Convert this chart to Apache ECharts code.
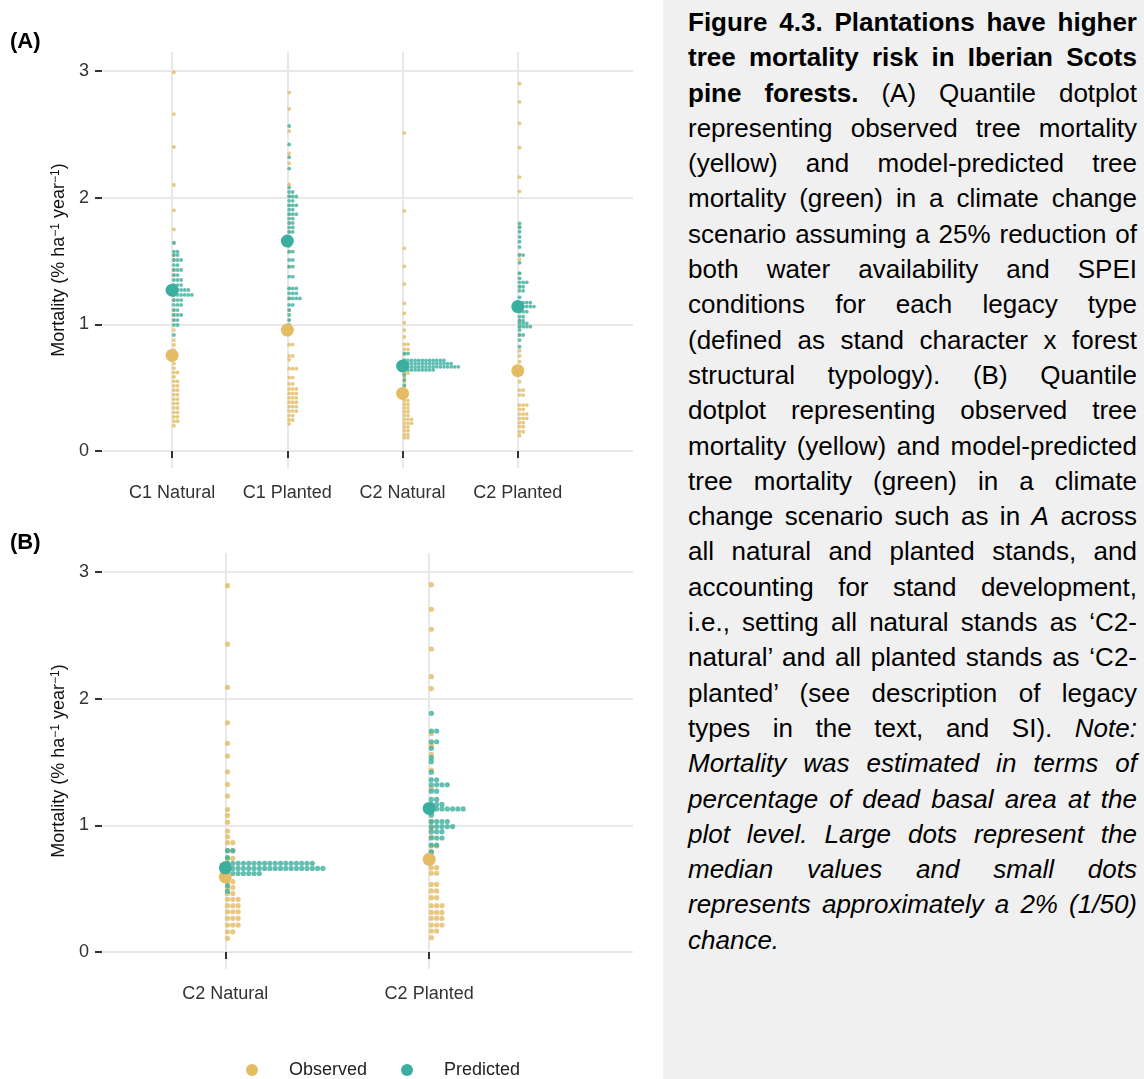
<!DOCTYPE html>
<html>
<head>
<meta charset="utf-8">
<script src="https://cdn.jsdelivr.net/npm/echarts@6/dist/echarts.min.js"></script>
<style>
html,body{margin:0;padding:0;background:#fff;}
#chart{position:absolute;left:0;top:0;width:663px;height:1079px;}
#caption{position:absolute;left:663px;top:0;width:481px;height:1079px;background:#f0f0f0;}
#caption .lines{position:absolute;left:25px;top:5px;width:449px;font-family:"Liberation Sans",Arial,sans-serif;font-size:26px;line-height:35.3px;color:#000;}
.l{text-align:justify;text-align-last:justify;}
.last{text-align-last:left;}
</style>
</head>
<body>
<div id="chart"></div>
<div id="caption"><div class="lines">
<div class="l"><b>Figure 4.3. Plantations have higher</b></div>
<div class="l"><b>tree mortality risk in Iberian Scots</b></div>
<div class="l"><b>pine forests.</b> (A) Quantile dotplot</div>
<div class="l">representing observed tree mortality</div>
<div class="l">(yellow) and model-predicted tree</div>
<div class="l">mortality (green) in a climate change</div>
<div class="l">scenario assuming a 25% reduction of</div>
<div class="l">both water availability and SPEI</div>
<div class="l">conditions for each legacy type</div>
<div class="l">(defined as stand character x forest</div>
<div class="l">structural typology). (B) Quantile</div>
<div class="l">dotplot representing observed tree</div>
<div class="l">mortality (yellow) and model-predicted</div>
<div class="l">tree mortality (green) in a climate</div>
<div class="l">change scenario such as in <i>A</i> across</div>
<div class="l">all natural and planted stands, and</div>
<div class="l">accounting for stand development,</div>
<div class="l">i.e., setting all natural stands as ‘C2-</div>
<div class="l">natural’ and all planted stands as ‘C2-</div>
<div class="l">planted’ (see description of legacy</div>
<div class="l">types in the text, and SI). <i>Note:</i></div>
<div class="l"><i>Mortality was estimated in terms of</i></div>
<div class="l"><i>percentage of dead basal area at the</i></div>
<div class="l"><i>plot level. Large dots represent the</i></div>
<div class="l"><i>median values and small dots</i></div>
<div class="l"><i>represents approximately a 2% (1/50)</i></div>
<div class="l last"><i>chance.</i></div>
</div></div>
<script>
// ---------- DATA ----------
const categoriesA = ['C1 Natural', 'C1 Planted', 'C2 Natural', 'C2 Planted'];
const categoriesB = ['C2 Natural', 'C2 Planted'];
const yTickValues = [0, 1, 2, 3];
const seriesNames = ['Observed', 'Predicted'];

// bins: [mortality value, number of stacked small dots]
const obsA_C1Natural = [[2.99,1],[2.66,1],[2.40,1],[2.10,1],[1.90,1],[1.75,1],[1.64,1],[1.547,1],[1.508,1],[1.429,1],[1.389,1],[1.31,1],[1.232,1],[1.192,1],[1.113,1],[1.074,1],[1.034,1],[0.955,1],[0.876,1],[0.837,1],[0.797,1],
  [0.69,1],[0.655,1],[0.62,2],[0.585,1],[0.55,2],[0.515,2],[0.48,2],[0.445,2],[0.41,2],[0.375,2],[0.34,2],[0.305,2],[0.27,2],[0.235,2],[0.20,1]];
const predA_C1Natural = [[1.645,1],[1.574,2],[1.547,2],[1.508,3],[1.468,2],[1.429,3],[1.389,2],[1.35,3],[1.31,3],[1.271,5],[1.232,6],[1.192,3],[1.153,3],[1.113,2],[1.074,3],[1.034,2],[0.995,2],[0.916,1]];
const obsA_C1Planted = [[2.83,1],[2.70,1],[2.526,1],[2.35,1],[2.27,1],[2.105,1],[2.01,1],[1.94,1],[1.87,1],[1.80,1],[1.73,1],[1.574,1],[1.455,1],[1.284,1],[1.205,1],[1.113,1],[1.034,1],
  [0.84,2],[0.75,2],[0.72,1],[0.65,3],[0.58,2],[0.53,2],[0.49,3],[0.455,3],[0.42,3],[0.385,3],[0.35,3],[0.315,3],[0.28,2],[0.245,2],[0.215,1]];
const predA_C1Planted = [[2.566,1],[2.42,1],[2.32,1],[2.23,1],[2.08,1],[2.045,2],[2.01,3],[1.975,2],[1.94,3],[1.905,2],[1.87,3],[1.835,2],[1.80,2],[1.765,2],[1.73,2],[1.69,1],[1.62,1],[1.574,2],[1.508,2],[1.455,2],[1.376,2],[1.284,3],[1.245,3],[1.205,4],[1.153,2],[1.113,1],[1.074,1],[1.034,1],[0.995,1]];
const obsA_C2Natural = [[2.51,1],[1.895,1],[1.60,1],[1.458,1],[1.318,1],[1.166,1],[1.087,1],[1.013,1],[0.955,1],[0.90,1],[0.842,2],[0.803,2],[0.763,1],[0.72,1],[0.69,1],[0.615,2],[0.58,1],[0.55,1],[0.51,1],
  [0.40,2],[0.37,2],[0.34,2],[0.31,2],[0.28,2],[0.25,3],[0.22,3],[0.19,2],[0.16,2],[0.13,2],[0.105,2]];
const predA_C2Natural = [[0.77,2],[0.715,12],[0.69,14],[0.665,16],[0.64,9],[0.60,1],[0.56,1],[0.52,1]];
const obsA_C2Planted = [[2.90,1],[2.757,1],[2.587,1],[2.395,1],[2.163,1],[2.05,1],[1.77,1],[1.55,1],[1.513,1],[1.403,1],[1.297,1],[1.171,1],[1.10,1],[1.029,1],[0.982,1],[0.916,1],[0.79,1],[0.75,1],[0.705,1],
  [0.547,1],[0.48,2],[0.442,2],[0.363,3],[0.329,2],[0.292,3],[0.258,3],[0.224,2],[0.192,2],[0.152,2],[0.121,1]];
const predA_C2Planted = [[1.797,1],[1.765,1],[1.731,1],[1.69,1],[1.652,1],[1.61,1],[1.547,2],[1.486,1],[1.403,1],[1.363,1],[1.332,3],[1.297,2],[1.265,2],[1.213,1],[1.171,4],[1.14,5],[1.10,3],[1.06,2],[1.029,2],[1.008,3],[0.982,4],[0.955,1],[0.916,2],[0.876,1],[0.823,1]];

const obsB_C2Natural = [[2.892,1],[2.43,1],[2.09,1],[1.81,1],[1.648,1],[1.547,1],[1.423,1],[1.323,1],[1.231,1],[1.125,1],[1.078,1],[1.025,1],[0.955,1],[0.91,1],[0.863,2],[0.80,2],[0.74,2],[0.70,1],[0.66,1],
  [0.555,2],[0.51,2],[0.463,2],[0.416,3],[0.366,3],[0.318,3],[0.266,3],[0.213,3],[0.16,2],[0.108,1]];
const predB_C2Natural = [[0.80,2],[0.745,1],[0.70,17],[0.66,19],[0.62,7],[0.525,1],[0.48,1]];
const obsB_C2Planted = [[2.90,1],[2.705,1],[2.548,1],[2.392,1],[2.174,1],[2.08,1],[1.726,1],[1.634,1],[1.56,1],[1.437,1],[1.29,1],[1.10,1],[1.03,1],[0.976,1],[0.91,1],[0.837,2],[0.79,1],
  [0.666,2],[0.621,2],[0.534,2],[0.482,2],[0.429,2],[0.366,3],[0.313,3],[0.266,3],[0.213,3],[0.166,2],[0.113,1]];
const predB_C2Planted = [[1.884,1],[1.745,2],[1.66,2],[1.608,1],[1.534,1],[1.503,1],[1.42,1],[1.36,2],[1.32,4],[1.27,2],[1.205,2],[1.165,3],[1.13,7],[1.08,1],[1.03,4],[0.99,5],[0.95,3],[0.90,3],[0.845,2],[0.79,1]];

const medianObsA = [0.755, 0.955, 0.455, 0.634];
const medianPredA = [1.27, 1.658, 0.671, 1.14];
const medianObsB = [0.594, 0.732];
const medianPredB = [0.665, 1.134];

// ---------- STYLE ----------
const YELLOW = '#E3BC63';
const TEAL = '#3BAF9F';
const FONT = '"Liberation Sans", Arial, sans-serif';
const DOTS = [ {r:1.9, step:3.6, first:1.8}, {r:2.6, step:5.3, first:2.2} ];

function toItems(binLists) {
  const out = [];
  binLists.forEach((bins, ci) => bins.forEach(b => out.push([ci + 1, b[0], b[1]])));
  return out;
}
function dotSeries(name, gridIndex, binLists, color) {
  const st = DOTS[gridIndex];
  return {
    type: 'custom', name, xAxisIndex: gridIndex, yAxisIndex: gridIndex,
    clip: false, itemStyle: {color},
    encode: {x: 0, y: 1},
    data: toItems(binLists),
    renderItem: (params, api) => {
      const c = api.coord([api.value(0), api.value(1)]);
      const n = api.value(2);
      const children = [];
      for (let i = 0; i < n; i++) {
        children.push({type: 'circle', shape: {cx: c[0] + st.first + i * st.step, cy: c[1], r: st.r},
          style: {fill: color, opacity: 0.8}});
      }
      return {type: 'group', children};
    }
  };
}
function medianSeries(name, gridIndex, medians, color) {
  return {
    type: 'scatter', name, xAxisIndex: gridIndex, yAxisIndex: gridIndex,
    symbol: 'circle', symbolSize: 13, itemStyle: {color, opacity: 1},
    data: medians.map((v, i) => [i + 1, v]), z: 3
  };
}
function xAxis(gridIndex, cats, max, splitNumber) {
  const vals = cats.map((c, i) => i + 1);
  return {
    gridIndex, type: 'value', min: 0.4, max, splitNumber,
    axisLine: {show: false},
    axisTick: {show: true, customValues: vals, length: 7, lineStyle: {color: '#333', width: 2}},
    axisLabel: {customValues: vals, formatter: v => cats[Math.round(v) - 1] || '', margin: 16,
      fontSize: 18, color: '#333', fontFamily: FONT},
    splitLine: {show: true, lineStyle: {color: '#E8E8E8', width: 2}}
  };
}
function yAxis(gridIndex) {
  return {
    gridIndex, type: 'value', min: -0.134, max: 3.15, splitNumber: 3, offset: 1,
    axisLine: {show: false},
    axisTick: {show: true, customValues: yTickValues, length: 7, lineStyle: {color: '#333', width: 2}},
    axisLabel: {customValues: yTickValues, margin: 13, fontSize: 18, color: '#333', fontFamily: FONT},
    splitLine: {show: true, lineStyle: {color: '#E8E8E8', width: 2}},
    name: 'Mortality (% ha{s|−1} year{s|−1})', nameLocation: 'middle', nameGap: 32, nameRotate: 90,
    nameTextStyle: {fontSize: 18, color: '#111', fontFamily: FONT,
      rich: {s: {fontSize: 12, verticalAlign: 'top', fontFamily: FONT, color: '#111'}}}
  };
}

const option = {
  animation: false,
  title: [
    {text: '(A)', left: 10, top: 31, padding: 0, textStyle: {fontSize: 22, fontWeight: 'bold', color: '#000', fontFamily: FONT}},
    {text: '(B)', left: 10, top: 532, padding: 0, textStyle: {fontSize: 22, fontWeight: 'bold', color: '#000', fontFamily: FONT}}
  ],
  grid: [
    {left: 103, top: 52, width: 530, height: 416},
    {left: 103, top: 553, width: 530, height: 416}
  ],
  xAxis: [xAxis(0, categoriesA, 5.0, 5), xAxis(1, categoriesB, 3.0, 3)],
  yAxis: [yAxis(0), yAxis(1)],
  legend: {
    left: 241, top: 1056, itemWidth: 12, itemHeight: 12, itemGap: 34,
    data: seriesNames.map(n => ({name: n, icon: 'circle'})),
    textStyle: {fontSize: 18, color: '#222', fontFamily: FONT, padding: [0, 0, 0, 26]}
  },
  series: [
    dotSeries('Observed', 0, [obsA_C1Natural, obsA_C1Planted, obsA_C2Natural, obsA_C2Planted], YELLOW),
    dotSeries('Predicted', 0, [predA_C1Natural, predA_C1Planted, predA_C2Natural, predA_C2Planted], TEAL),
    medianSeries('Observed', 0, medianObsA, YELLOW),
    medianSeries('Predicted', 0, medianPredA, TEAL),
    dotSeries('Observed', 1, [obsB_C2Natural, obsB_C2Planted], YELLOW),
    dotSeries('Predicted', 1, [predB_C2Natural, predB_C2Planted], TEAL),
    medianSeries('Observed', 1, medianObsB, YELLOW),
    medianSeries('Predicted', 1, medianPredB, TEAL)
  ]
};
const chart = echarts.init(document.getElementById('chart'), null, {renderer: 'canvas'});
chart.setOption(option);
</script>
</body>
</html>
